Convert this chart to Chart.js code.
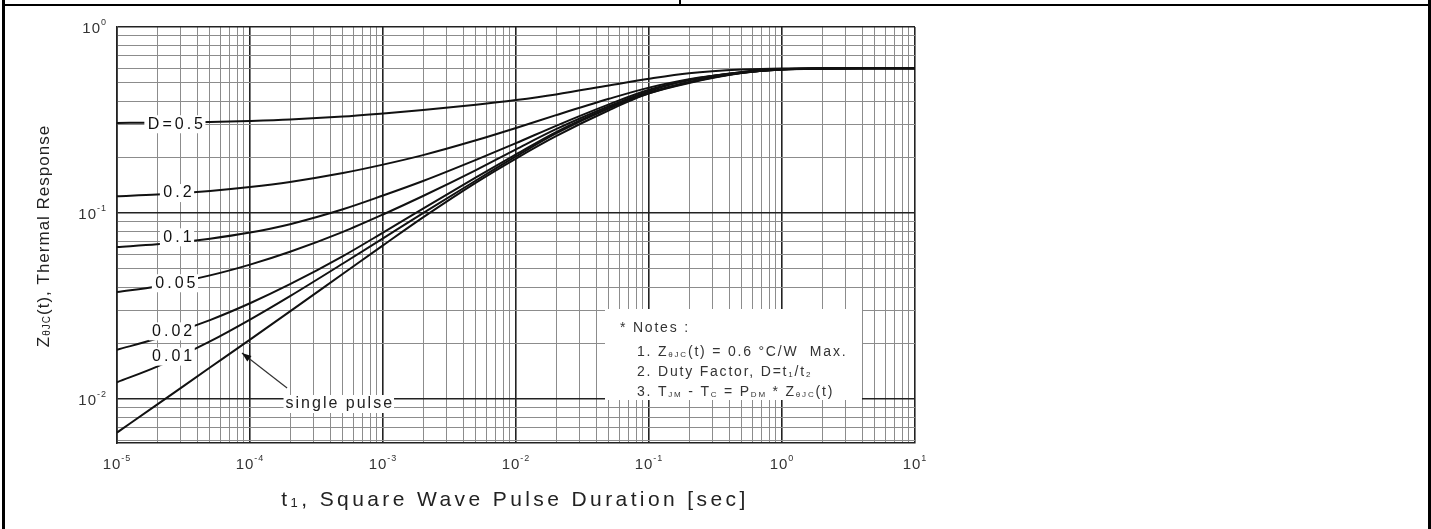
<!DOCTYPE html>
<html>
<head>
<meta charset="utf-8">
<script src="https://cdn.jsdelivr.net/npm/chart.js@4.4.0/dist/chart.umd.min.js"></script>
<style>
  html, body { margin: 0; padding: 0; background: #fff; }
  #wrap { width: 1431px; height: 529px; }
</style>
</head>
<body>
<div id="wrap"><canvas id="thermalChart" width="1431" height="529"></canvas></div>
<script>
// pulse duration t1 [sec]
const pulseTimes = [1e-5, 2e-5, 5e-5, 1e-4, 2e-4, 5e-4, 1e-3, 2e-3, 5e-3, 1e-2, 2e-2, 5e-2, 1e-1, 2e-1, 5e-1, 1, 2, 5, 10];

// Z thJC(t), one array per duty factor
const zD05    = [0.305, 0.306, 0.3088, 0.3127, 0.3182, 0.330, 0.3428, 0.3574, 0.3819, 0.405, 0.4341, 0.4847, 0.5267, 0.5645, 0.591, 0.599, 0.600, 0.600, 0.600];
const zD02    = [0.123, 0.1256, 0.1315, 0.138, 0.1469, 0.164, 0.182, 0.2047, 0.2459, 0.2864, 0.3358, 0.411, 0.4721, 0.5238, 0.5689, 0.592, 0.598, 0.600, 0.600];
const zD01    = [0.0656, 0.0679, 0.0728, 0.0785, 0.0871, 0.1047, 0.1241, 0.1485, 0.1929, 0.2373, 0.2943, 0.3838, 0.4597, 0.517, 0.573, 0.594, 0.599, 0.600, 0.600];
const zD005   = [0.0376, 0.0403, 0.0462, 0.0528, 0.0619, 0.0792, 0.0982, 0.1234, 0.1701, 0.2199, 0.2822, 0.375, 0.452, 0.520, 0.572, 0.592, 0.599, 0.600, 0.600];
const zD002   = [0.0184, 0.02113, 0.02657, 0.03272, 0.04141, 0.05865, 0.07847, 0.1057, 0.1553, 0.2064, 0.2723, 0.3683, 0.4443, 0.507, 0.568, 0.591, 0.598, 0.600, 0.600];
const zD001   = [0.0123, 0.01493, 0.0204, 0.02673, 0.03574, 0.05352, 0.07309, 0.09986, 0.1495, 0.2013, 0.2676, 0.3652, 0.4405, 0.503, 0.567, 0.591, 0.598, 0.600, 0.600];
const zSingle = [0.0066, 0.00933, 0.01476, 0.02087, 0.02961, 0.04713, 0.06698, 0.09471, 0.1457, 0.1963, 0.259, 0.3569, 0.4395, 0.500, 0.565, 0.590, 0.598, 0.600, 0.600];

const seriesList = [zD05, zD02, zD01, zD005, zD002, zD001, zSingle];

// axis decades and their exponent labels
const xDecades = [1e-5, 1e-4, 1e-3, 1e-2, 1e-1, 1, 10];
const xDecadeExps = ['-5', '-4', '-3', '-2', '-1', '0', '1'];
const yDecades = [0.001, 0.01, 0.1, 1];
const yDecadeExps = ['-3', '-2', '-1', '0'];
const xMin = 1e-5, xMax = 10;
const yMin = 0.0058, yMax = 1;

// curve labels (t, Z where they sit)
const curveLabels = [
  { text: 'D=0.5', t: 2.75e-5, z: 0.300 },
  { text: '0.2',   t: 2.85e-5, z: 0.128 },
  { text: '0.1',   t: 2.85e-5, z: 0.074 },
  { text: '0.05',  t: 2.75e-5, z: 0.0419 },
  { text: '0.02',  t: 2.6e-5,  z: 0.0231 },
  { text: '0.01',  t: 2.6e-5,  z: 0.0169 }
];
const singleLabel = { text: 'single pulse', t: 1.85e-4, z: 0.0094 };
const arrowTail = { t: 1.9e-4, z: 0.01146 };
const arrowTip = { t: 8.7e-5, z: 0.01767 };

function gridValues(decades, lo, hi) {
  const out = [];
  decades.forEach(d => {
    for (let k = 1; k <= 9; k++) {
      const v = +(d * k).toPrecision(6);
      if (v >= lo * 0.9999 && v <= hi * 1.0001) out.push(v);
    }
  });
  return out;
}
const xGrid = gridValues(xDecades, xMin, xMax);
const yGrid = gridValues(yDecades, yMin, yMax);

function isDecade(v) {
  const l = Math.log10(v);
  return Math.abs(l - Math.round(l)) < 1e-6;
}

function drawRuns(ctx, x, y, runs, size) {
  let cx = x;
  runs.forEach(([txt, kind]) => {
    let s = size, dy = 0;
    if (kind === 'sub') { s = Math.round(size * 0.6); dy = 3; }
    if (kind === 'sup') { s = Math.round(size * 0.6); dy = -size * 0.45; }
    ctx.font = s + 'px "Liberation Sans", Arial, sans-serif';
    ctx.fillText(txt, cx, y + dy);
    cx += ctx.measureText(txt).width;
  });
  return cx - x;
}

function measureRuns(ctx, runs, size) {
  let w = 0;
  runs.forEach(([txt, kind]) => {
    const s = kind === 'n' ? size : Math.round(size * 0.6);
    ctx.font = s + 'px "Liberation Sans", Arial, sans-serif';
    w += ctx.measureText(txt).width;
  });
  return w;
}

const overlay = {
  id: 'overlay',
  beforeDraw(chart) {
    const ctx = chart.ctx;
    ctx.save();
    ctx.fillStyle = '#fff';
    ctx.fillRect(0, 0, chart.width, chart.height);
    ctx.restore();
  },
  afterDatasetsDraw(chart) {
    const ctx = chart.ctx;
    const xs = chart.scales.x, ys = chart.scales.y;
    ctx.save();
    ctx.textBaseline = 'middle';
    ctx.fillStyle = '#111';

    // curve labels with white background
    ctx.letterSpacing = '3px';
    ctx.font = '16px "Liberation Sans", Arial, sans-serif';
    curveLabels.forEach(l => {
      const px = xs.getPixelForValue(l.t), py = ys.getPixelForValue(l.z);
      const w = ctx.measureText(l.text).width;
      ctx.fillStyle = '#fff';
      ctx.fillRect(px - w / 2 - 2, py - 9, w + 3, 18);
      ctx.fillStyle = '#111';
      ctx.textAlign = 'center';
      ctx.fillText(l.text, px + 1.5, py);
    });

    // single pulse label + arrow
    ctx.letterSpacing = '2px';
    ctx.font = '16px "Liberation Sans", Arial, sans-serif';
    {
      const px = xs.getPixelForValue(singleLabel.t), py = ys.getPixelForValue(singleLabel.z);
      const w = ctx.measureText(singleLabel.text).width;
      ctx.fillStyle = '#fff';
      ctx.fillRect(px - 2, py - 9, w + 2, 18);
      ctx.fillStyle = '#222';
      ctx.textAlign = 'left';
      ctx.fillText(singleLabel.text, px, py);
    }
    {
      const x1 = xs.getPixelForValue(arrowTail.t), y1 = ys.getPixelForValue(arrowTail.z);
      const x2 = xs.getPixelForValue(arrowTip.t), y2 = ys.getPixelForValue(arrowTip.z);
      ctx.strokeStyle = '#333';
      ctx.lineWidth = 1.2;
      ctx.beginPath(); ctx.moveTo(x1, y1); ctx.lineTo(x2, y2); ctx.stroke();
      const a = Math.atan2(y2 - y1, x2 - x1);
      ctx.fillStyle = '#111';
      ctx.beginPath();
      ctx.moveTo(x2, y2);
      ctx.lineTo(x2 - 10 * Math.cos(a - 0.35), y2 - 10 * Math.sin(a - 0.35));
      ctx.lineTo(x2 - 10 * Math.cos(a + 0.35), y2 - 10 * Math.sin(a + 0.35));
      ctx.closePath(); ctx.fill();
    }

    // notes box
    ctx.fillStyle = '#fff';
    ctx.fillRect(605, 309, 257, 91);
    ctx.fillStyle = '#333';
    ctx.textAlign = 'left';
    ctx.letterSpacing = '1.8px';
    drawRuns(ctx, 620, 328, [['* Notes :', 'n']], 14);
    drawRuns(ctx, 637, 352, [['1. Z', 'n'], ['θJC', 'sub'], ['(t) = 0.6 °C/W  Max.', 'n']], 14);
    drawRuns(ctx, 637, 372, [['2. Duty Factor, D=t', 'n'], ['1', 'sub'], ['/t', 'n'], ['2', 'sub']], 14);
    drawRuns(ctx, 637, 392, [['3. T', 'n'], ['JM', 'sub'], [' - T', 'n'], ['C', 'sub'], [' = P', 'n'], ['DM', 'sub'], [' * Z', 'n'], ['θJC', 'sub'], ['(t)', 'n']], 14);

    // tick labels (10 with superscript exponent)
    ctx.letterSpacing = '1px';
    ctx.fillStyle = '#333';
    xDecades.forEach((d, i) => {
      const runs = [['10', 'n'], [xDecadeExps[i], 'sup']];
      const w = measureRuns(ctx, runs, 15);
      drawRuns(ctx, xs.getPixelForValue(d) - w / 2, 465, runs, 15);
    });
    yDecades.forEach((d, i) => {
      if (d < yMin) return;
      const runs = [['10', 'n'], [yDecadeExps[i], 'sup']];
      const w = measureRuns(ctx, runs, 15);
      drawRuns(ctx, 107 - w, ys.getPixelForValue(d) + 2, runs, 15);
    });

    // axis titles
    ctx.fillStyle = '#222';
    ctx.letterSpacing = '3.4px';
    {
      const runs = [['t', 'n'], ['1', 'sub'], [', Square Wave Pulse Duration [sec]', 'n']];
      const w = measureRuns(ctx, runs, 21);
      drawRuns(ctx, 515 - w / 2, 500, runs, 21);
    }
    ctx.letterSpacing = '1px';
    {
      const runs = [['Z', 'n'], ['θJC', 'sub'], ['(t), Thermal Response', 'n']];
      const w = measureRuns(ctx, runs, 17);
      ctx.save();
      ctx.translate(44, 236);
      ctx.rotate(-Math.PI / 2);
      drawRuns(ctx, -w / 2, 0, runs, 17);
      ctx.restore();
    }

    // page frame
    ctx.fillStyle = '#000';
    ctx.fillRect(2, 0, 3, chart.height);
    ctx.fillRect(1428, 0, 3, chart.height);
    ctx.fillRect(2, 4, 1429, 2);
    ctx.fillRect(679, 0, 2, 5);
    ctx.restore();
  }
};

const datasets = seriesList.map(s => ({
  data: pulseTimes.map((t, i) => ({ x: t, y: s[i] })),
  borderColor: '#111',
  borderWidth: 2,
  pointRadius: 0,
  fill: false,
  cubicInterpolationMode: 'monotone'
}));

const gridStyle = {
  color: c => (c.tick && isDecade(c.tick.value)) ? '#222' : '#8c8c8c',
  lineWidth: c => (c.tick && isDecade(c.tick.value)) ? 1.6 : 1,
  drawTicks: false
};

const config = {
  type: 'line',
  data: { datasets: datasets },
  options: {
    responsive: false,
    animation: false,
    devicePixelRatio: 1,
    layout: { padding: { left: 117, right: 516, top: 27, bottom: 86 } },
    plugins: { legend: { display: false }, tooltip: { enabled: false } },
    scales: {
      x: {
        type: 'logarithmic',
        min: xMin,
        max: xMax,
        afterBuildTicks: scale => { scale.ticks = xGrid.map(v => ({ value: v })); },
        ticks: { display: false },
        grid: gridStyle,
        border: { color: '#222', width: 1.6 }
      },
      y: {
        type: 'logarithmic',
        min: yMin,
        max: yMax,
        afterBuildTicks: scale => { scale.ticks = yGrid.map(v => ({ value: v })); },
        ticks: { display: false },
        grid: gridStyle,
        border: { color: '#222', width: 1.6 }
      }
    }
  },
  plugins: [overlay]
};

const thermalChart = new Chart(document.getElementById('thermalChart'), config);
</script>
</body>
</html>
